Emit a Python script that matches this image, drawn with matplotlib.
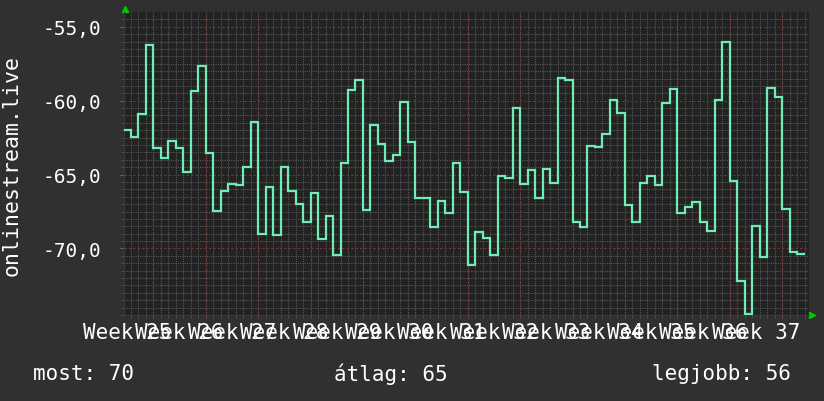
import matplotlib
matplotlib.use("Agg")
import matplotlib.pyplot as plt
import numpy as np

# daily values, one per day, first day starts 4 days before week 25 line
values = [
    -62.0, -62.45, -60.9, -56.22, -63.19, -63.87, -62.74, -63.19, -64.82, -59.32,
    -57.65, -63.55, -67.47, -66.11, -65.64, -65.7, -64.46, -61.43, -69.03, -65.84,
    -69.12, -64.48, -66.11, -66.97, -68.19, -66.25, -69.37, -67.83, -70.46, -64.23,
    -59.25, -58.58, -67.4, -61.65, -62.94, -64.07, -63.67, -60.07, -62.78, -66.61,
    -66.61, -68.55, -66.79, -67.58, -64.23, -66.18, -71.13, -68.9, -69.3, -70.41,
    -65.09, -65.23, -60.5, -65.64, -64.71, -66.61, -64.64, -65.57, -58.46, -58.58,
    -68.21, -68.55, -63.08, -63.12, -62.26, -59.93, -60.84, -67.06, -68.19, -65.57,
    -65.09, -65.7, -60.16, -59.21, -67.6, -67.2, -66.86, -68.21, -68.83, -59.93,
    -56.0, -65.43, -72.22, -74.45, -68.51, -70.59, -59.12, -59.73, -67.33, -70.25,
    -70.34,
]
first_day = -4
weeks = list(range(25, 38))
week_labels = ["Week %d" % w for w in weeks]
y_ticks = [-70, -65, -60, -55]
footer = ["most: 70", "átlag: 65", "legjobb: 56"]

font = "DejaVu Sans Mono"
plt.rcParams["font.family"] = font
plt.rcParams["font.size"] = 15

fig = plt.figure(figsize=(8.24, 4.02), dpi=100, facecolor="#303030")
ax = fig.add_axes([124 / 824, 1 - 316 / 402, 685 / 824, 303 / 402])
ax.set_facecolor("#222222")

edges = np.arange(first_day, first_day + len(values) + 1)
ax.stairs(values, edges, baseline=None, color="#6fedb4", linewidth=1.6, zorder=5)

ax.set_xlim(-3.93, 87.6)
ax.set_ylim(-74.5, -54.0)

# y axis
ax.set_yticks(y_ticks)
ax.set_yticklabels([("%.1f" % v).replace(".", ",") for v in y_ticks],
                   color="white", fontsize=14)
ax.set_yticks(np.arange(-74.5, -54.0, 0.5), minor=True)
ax.grid(which="minor", axis="y", color="#575757", linestyle=(0, (1, 1)), linewidth=0.8)
ax.grid(which="major", axis="y", color="#7a3535", linestyle=(0, (2, 2)), linewidth=0.8)

# x axis: labels between week lines, day grid, week lines
ax.set_xticks([-3.5 + 7 * i for i in range(len(weeks))])
ax.set_xticklabels(week_labels, color="white")
ax.set_xticks(np.arange(-3, 88, 1), minor=True)
ax.grid(which="minor", axis="x", color="#575757", linestyle=(0, (1, 1)), linewidth=0.8)
ax.vlines([7 * i for i in range(13)], -74.5, -54.0, color="#7a3535",
          linestyle=(0, (2, 2)), linewidth=0.8, zorder=1)
ax.set_axisbelow(True)

ax.tick_params(axis="x", which="major", length=0, pad=5)
ax.tick_params(axis="y", which="major", length=3, pad=13, color="#666666")
ax.tick_params(which="minor", length=2, color="#555555")

for s in ["top", "right"]:
    ax.spines[s].set_visible(False)
for s in ["left", "bottom"]:
    ax.spines[s].set_color("#3a3a3a")

# axis arrows
ax.plot([0.0015], [1.01], marker="^", color="#00cc00", markersize=5,
        transform=ax.transAxes, clip_on=False)
ax.plot([1.005], [0.0], marker=">", color="#00cc00", markersize=5,
        transform=ax.transAxes, clip_on=False)

fig.text(12 / 824, 1 - 165 / 402, "onlinestream.live", rotation=90,
         ha="center", va="center", color="white", fontsize=15.5)

xs = [33 / 824, 334 / 824, 652 / 824]
for x, t in zip(xs, footer):
    fig.text(x, 1 - 374 / 402, t, ha="left", va="center", color="white")

fig.savefig("out.png", dpi=100, facecolor=fig.get_facecolor())
